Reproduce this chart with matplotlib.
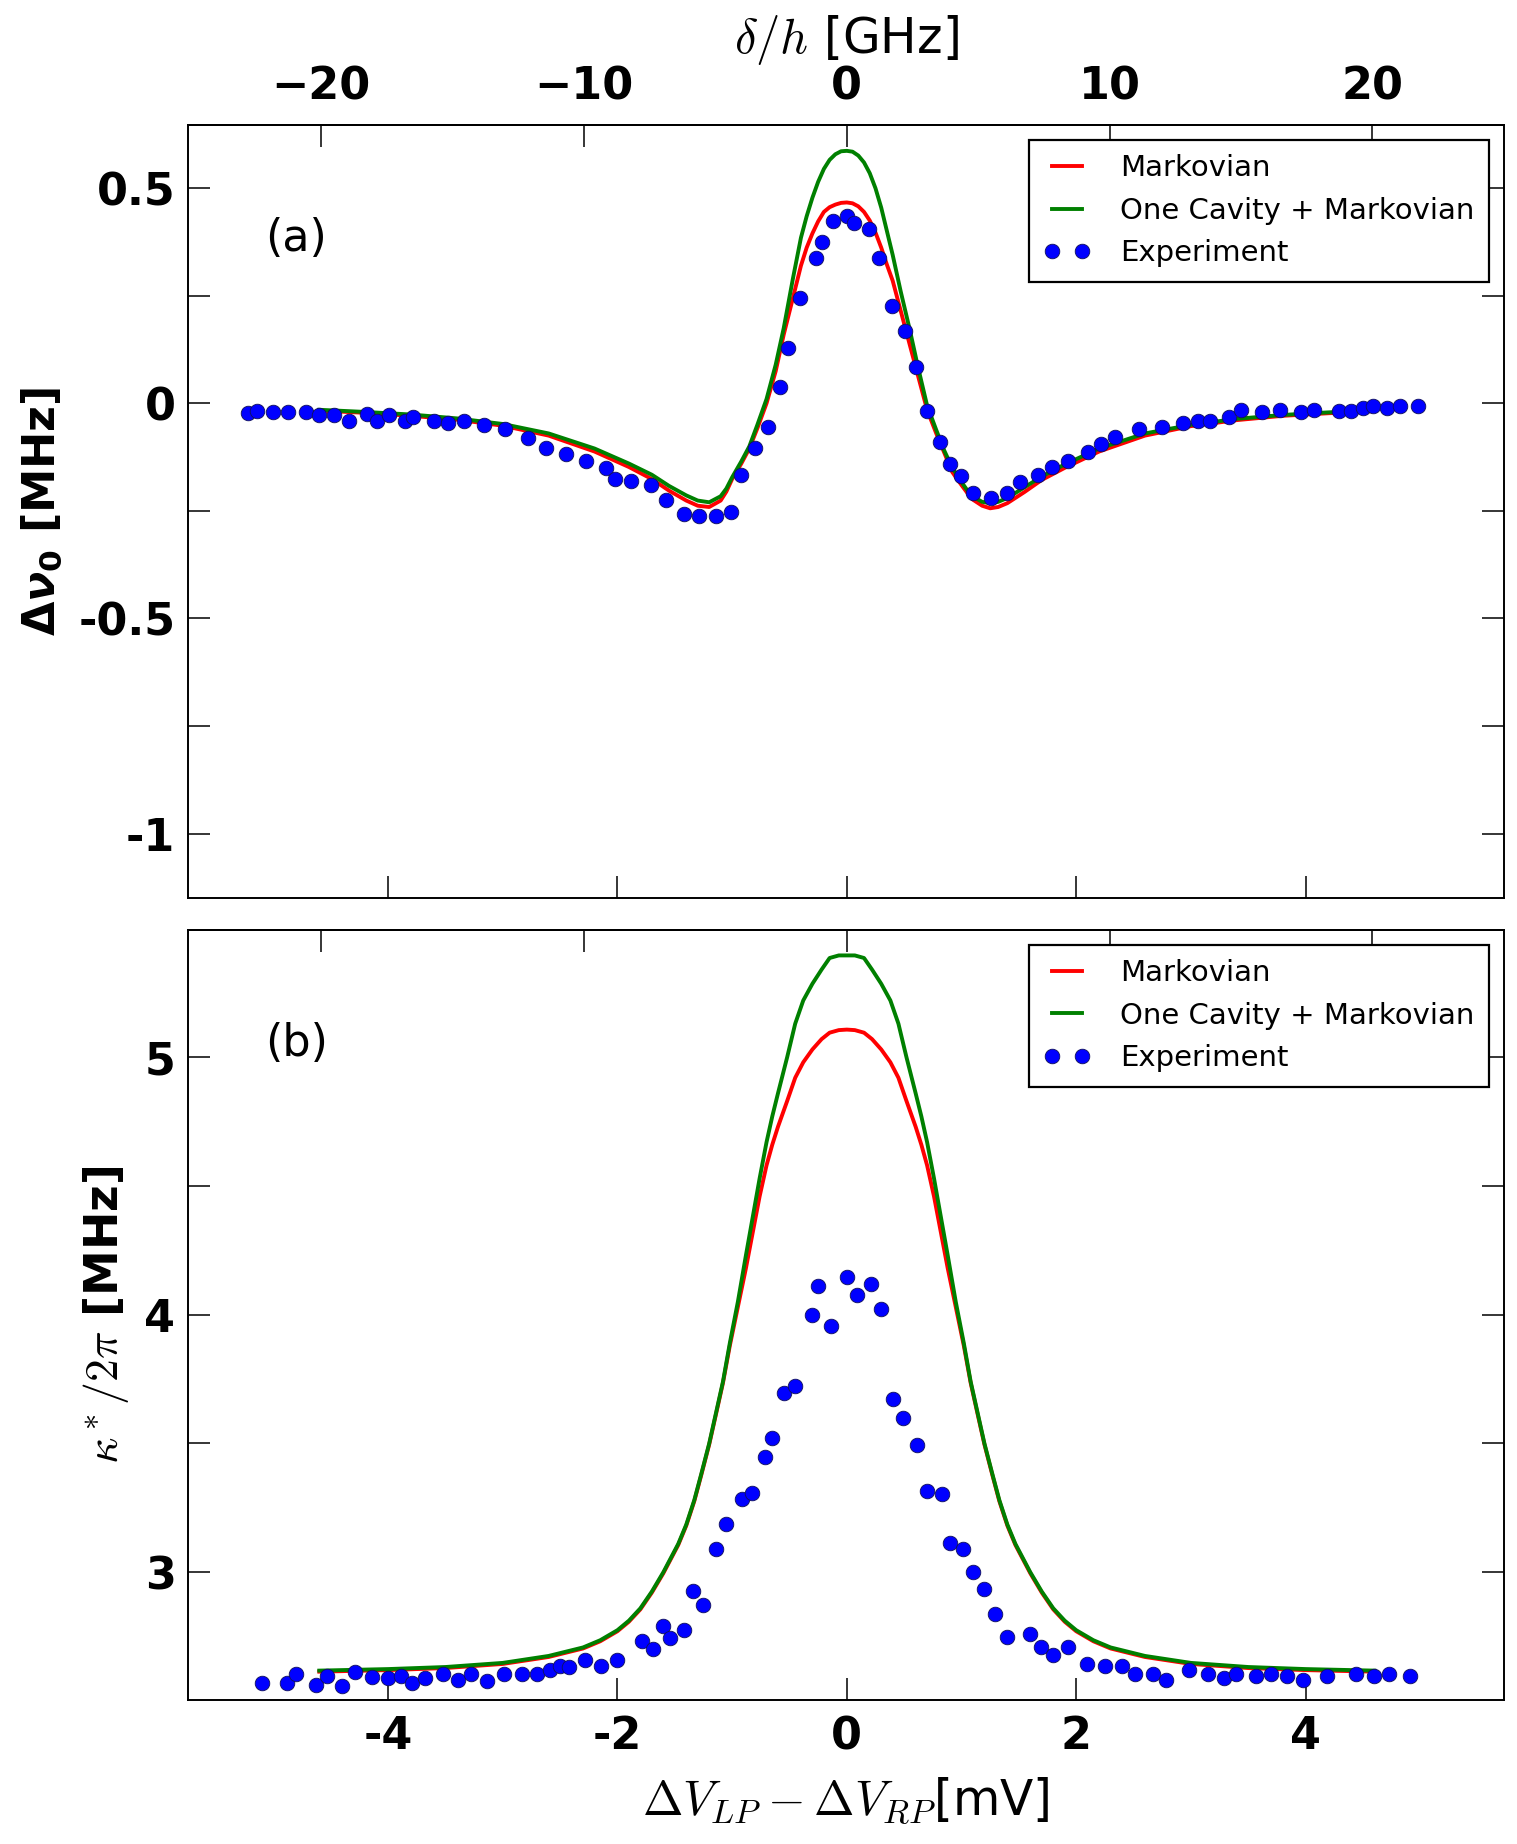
import numpy as np
import matplotlib
matplotlib.use('Agg')
import matplotlib.pyplot as plt
from matplotlib.ticker import FixedLocator, FixedFormatter, MultipleLocator

plt.rcParams['font.family'] = 'DejaVu Sans'
plt.rcParams['font.weight'] = 'bold'

# ---------------- panel (a): frequency shift ----------------
xa_curve = [-4.6, -4.2, -3.8, -3.4, -3.0, -2.6, -2.2, -1.9, -1.7, -1.55,
            -1.4, -1.3, -1.2, -1.1, -1.05, -1.0, -0.92, -0.85, -0.78, -0.7,
            -0.62, -0.55, -0.47, -0.4, -0.35, -0.3, -0.25, -0.2, -0.15, -0.1,
            -0.05, 0.0,
            0.05, 0.1, 0.15, 0.2, 0.25, 0.3, 0.35, 0.4, 0.47, 0.55,
            0.62, 0.7, 0.78, 0.85, 0.92, 1.0, 1.05, 1.1, 1.18, 1.25,
            1.32, 1.4, 1.55, 1.7, 1.9, 2.2, 2.6, 3.0, 3.4, 3.8,
            4.2, 4.6]
a_markov = [-0.017, -0.022, -0.029, -0.038, -0.052, -0.075, -0.112, -0.148, -0.176, -0.203,
            -0.226, -0.238, -0.241, -0.226, -0.205, -0.176, -0.140, -0.105, -0.058, 0.000,
            0.075, 0.160, 0.245, 0.320, 0.362, 0.395, 0.423, 0.445, 0.456, 0.462,
            0.466, 0.467,
            0.465, 0.458, 0.445, 0.425, 0.397, 0.362, 0.322, 0.285, 0.215, 0.135,
            0.065, -0.015, -0.070, -0.115, -0.160, -0.190, -0.208, -0.224, -0.238, -0.244,
            -0.241, -0.232, -0.206, -0.178, -0.150, -0.112, -0.075, -0.053, -0.039, -0.029,
            -0.023, -0.018]
a_cavity = [-0.015, -0.020, -0.026, -0.035, -0.048, -0.070, -0.105, -0.140, -0.166, -0.192,
            -0.214, -0.226, -0.230, -0.216, -0.198, -0.172, -0.135, -0.100, -0.050, 0.010,
            0.090, 0.175, 0.290, 0.385, 0.435, 0.478, 0.515, 0.545, 0.566, 0.579,
            0.586, 0.587,
            0.585, 0.576, 0.560, 0.535, 0.500, 0.455, 0.400, 0.345, 0.260, 0.170,
            0.085, -0.005, -0.062, -0.110, -0.150, -0.183, -0.202, -0.217, -0.229, -0.232,
            -0.229, -0.220, -0.195, -0.170, -0.142, -0.105, -0.070, -0.050, -0.036, -0.027,
            -0.021, -0.016]
xa_exp = [-5.22, -5.14, -5.00, -4.87, -4.72, -4.60, -4.47, -4.34, -4.18, -4.10, -3.99, -3.85, -3.78,
          -3.60, -3.48, -3.34, -3.16, -2.98, -2.78, -2.62, -2.45, -2.27, -2.10, -2.02, -1.88, -1.71,
          -1.58, -1.42, -1.29, -1.14, -1.01, -0.92, -0.80, -0.69, -0.58, -0.51, -0.41, -0.27, -0.22,
          -0.12, 0.00, 0.06, 0.19, 0.28, 0.39, 0.51, 0.60, 0.70, 0.81, 0.90, 1.00, 1.10, 1.26, 1.40,
          1.51, 1.67, 1.79, 1.93, 2.10, 2.22, 2.34, 2.55, 2.75, 2.93, 3.06, 3.17, 3.33, 3.44, 3.62,
          3.78, 3.96, 4.07, 4.29, 4.40, 4.50, 4.59, 4.71, 4.82, 4.98]
a_exp = [-0.022, -0.017, -0.021, -0.021, -0.021, -0.026, -0.026, -0.041, -0.025, -0.041, -0.026,
         -0.041, -0.031, -0.041, -0.046, -0.041, -0.051, -0.060, -0.080, -0.104, -0.118, -0.133,
         -0.151, -0.176, -0.181, -0.190, -0.224, -0.258, -0.262, -0.262, -0.253, -0.166, -0.104,
         -0.054, 0.037, 0.128, 0.246, 0.337, 0.376, 0.425, 0.435, 0.420, 0.405, 0.338, 0.226,
         0.168, 0.085, -0.018, -0.089, -0.142, -0.170, -0.209, -0.220, -0.209, -0.184, -0.166,
         -0.149, -0.133, -0.114, -0.094, -0.079, -0.059, -0.056, -0.045, -0.040, -0.041, -0.031,
         -0.015, -0.021, -0.015, -0.021, -0.015, -0.017, -0.017, -0.011, -0.006, -0.011, -0.006,
         -0.006]

# ---------------- panel (b): linewidth ----------------
xb_curve = [-4.6, -4.0, -3.5, -3.0, -2.6, -2.3, -2.15, -2.0, -1.9, -1.8,
            -1.7, -1.6, -1.47, -1.4, -1.33, -1.27, -1.2, -1.14, -1.08, -1.02,
            -0.95, -0.88, -0.82, -0.76, -0.7, -0.65, -0.6, -0.52, -0.45, -0.38,
            -0.3, -0.22, -0.15, -0.07, 0.0,
            0.07, 0.15, 0.22, 0.3, 0.38, 0.45, 0.52, 0.6, 0.65, 0.7,
            0.76, 0.82, 0.88, 0.95, 1.02, 1.08, 1.14, 1.2, 1.27, 1.33,
            1.4, 1.47, 1.6, 1.7, 1.8, 1.9, 2.0, 2.15, 2.3, 2.6,
            3.0, 3.5, 4.0, 4.6]
b_cavity = [2.618, 2.624, 2.632, 2.648, 2.675, 2.708, 2.736, 2.775, 2.812, 2.860,
            2.925, 3.000, 3.110, 3.185, 3.280, 3.380, 3.500, 3.620, 3.740, 3.890,
            4.050, 4.230, 4.380, 4.530, 4.670, 4.770, 4.860, 5.000, 5.130, 5.220,
            5.285, 5.340, 5.385, 5.395, 5.395,
            5.395, 5.385, 5.340, 5.285, 5.220, 5.130, 5.000, 4.860, 4.770, 4.670,
            4.530, 4.380, 4.230, 4.050, 3.890, 3.740, 3.620, 3.500, 3.380, 3.280,
            3.185, 3.110, 3.000, 2.925, 2.860, 2.812, 2.775, 2.736, 2.708, 2.675,
            2.648, 2.632, 2.624, 2.618]
b_markov = [2.614, 2.620, 2.628, 2.644, 2.671, 2.704, 2.732, 2.771, 2.808, 2.856,
            2.921, 2.996, 3.106, 3.181, 3.276, 3.376, 3.496, 3.615, 3.735, 3.880,
            4.030, 4.180, 4.320, 4.460, 4.580, 4.660, 4.730, 4.830, 4.920, 4.980,
            5.030, 5.070, 5.095, 5.105, 5.107,
            5.105, 5.095, 5.070, 5.030, 4.980, 4.920, 4.830, 4.730, 4.660, 4.580,
            4.460, 4.320, 4.180, 4.030, 3.880, 3.735, 3.615, 3.496, 3.376, 3.276,
            3.181, 3.106, 2.996, 2.921, 2.856, 2.808, 2.771, 2.732, 2.704, 2.671,
            2.644, 2.628, 2.620, 2.614]
xb_exp = [-5.10, -4.88, -4.80, -4.63, -4.53, -4.40, -4.29, -4.14, -4.00, -3.89, -3.79, -3.68, -3.52,
          -3.39, -3.28, -3.14, -2.99, -2.83, -2.70, -2.59, -2.50, -2.42, -2.28, -2.14, -2.00, -1.79,
          -1.69, -1.60, -1.54, -1.42, -1.34, -1.25, -1.14, -1.05, -0.91, -0.83, -0.71, -0.65, -0.55,
          -0.45, -0.30, -0.25, -0.14, 0.00, 0.09, 0.21, 0.30, 0.40, 0.49, 0.61, 0.70, 0.83, 0.90,
          1.01, 1.10, 1.20, 1.29, 1.40, 1.60, 1.69, 1.80, 1.93, 2.09, 2.25, 2.40, 2.51, 2.67, 2.78,
          2.98, 3.15, 3.29, 3.39, 3.57, 3.70, 3.84, 3.98, 4.19, 4.44, 4.60, 4.73, 4.91]
b_exp = [2.571, 2.571, 2.606, 2.564, 2.599, 2.557, 2.612, 2.595, 2.588, 2.599, 2.571, 2.588, 2.605,
         2.582, 2.605, 2.579, 2.605, 2.605, 2.605, 2.622, 2.635, 2.631, 2.661, 2.635, 2.661, 2.733,
         2.703, 2.791, 2.743, 2.776, 2.928, 2.871, 3.091, 3.189, 3.285, 3.309, 3.447, 3.520, 3.697,
         3.723, 4.000, 4.111, 3.957, 4.145, 4.077, 4.118, 4.021, 3.674, 3.599, 3.496, 3.317, 3.302,
         3.113, 3.091, 3.002, 2.936, 2.838, 2.750, 2.760, 2.711, 2.677, 2.711, 2.643, 2.636, 2.635,
         2.605, 2.605, 2.582, 2.622, 2.605, 2.588, 2.605, 2.598, 2.605, 2.598, 2.582, 2.598, 2.605,
         2.598, 2.605, 2.598]

# tick labels
mv_ticks = [-4, -2, 0, 2, 4]
mv_labels = ['-4', '-2', '0', '2', '4']
ghz_ticks = [-20, -10, 0, 10, 20]
ghz_labels = ['\u221220', '\u221210', '0', '10', '20']
a_yticks = [0.5, 0, -0.5, -1]
a_ylabels = ['0.5', '0', '-0.5', '-1']
b_yticks = [3, 4, 5]
b_ylabels = ['3', '4', '5']

k = 4.365  # GHz per mV
xlim = (-5.745, 5.73)

fig = plt.figure(figsize=(15.17, 18.44), dpi=100)
axa = fig.add_axes([0.1239, 0.5130, 0.8675, 0.4192])
axb = fig.add_axes([0.1239, 0.0781, 0.8675, 0.4176])

mk = dict(marker='o', ls='none', color='#0000ff', ms=10.5, mec='#10105a', mew=0.6)

for ax, xc, ym, yc, xe, ye in [(axa, xa_curve, a_markov, a_cavity, xa_exp, a_exp),
                               (axb, xb_curve, b_markov, b_cavity, xb_exp, b_exp)]:
    ax.plot(xc, ym, color='#ff0000', lw=2.8, label='Markovian')
    ax.plot(xc, yc, color='#008000', lw=2.8, label='One Cavity + Markovian')
    ax.plot(xe, ye, label='Experiment', **mk)
    ax.set_xlim(*xlim)
    ax.xaxis.set_major_locator(FixedLocator(mv_ticks))
    ax.tick_params(which='both', direction='in', length=15.5, width=1.1,
                   right=True, top=False, labelsize=32)
    ax.tick_params(axis='x', pad=11)
    ax.tick_params(axis='y', pad=9)
    for s in ax.spines.values():
        s.set_linewidth(1.4)
    leg = ax.legend(loc='upper right', numpoints=2, fancybox=False, framealpha=1,
                    edgecolor='black', prop={'size': 21, 'weight': 'normal'},
                    borderaxespad=0.5, handlelength=1.65, handletextpad=1.0,
                    labelspacing=0.5, borderpad=0.5)
    leg.get_frame().set_linewidth(1.6)
    sec = ax.secondary_xaxis('top', functions=(lambda x: x * k, lambda g: g / k))
    sec.xaxis.set_major_locator(FixedLocator(ghz_ticks))
    sec.tick_params(direction='in', length=15.5, width=1.1, labelsize=32, pad=12)
    sec.spines['top'].set_linewidth(1.4)
    if ax is axa:
        sec.xaxis.set_major_formatter(FixedFormatter(ghz_labels))
        sec.set_xlabel(r'$\delta/h$ [GHz]', fontsize=35, fontweight='normal',
                       math_fontfamily='cm', labelpad=9)
    else:
        sec.set_xticklabels([])

axa.set_xticklabels([])
axa.set_ylim(-1.15, 0.647)
axa.yaxis.set_major_locator(FixedLocator(a_yticks))
axa.yaxis.set_major_formatter(FixedFormatter(a_ylabels))
axa.yaxis.set_minor_locator(MultipleLocator(0.25))
axa.set_ylabel(r'$\Delta\nu_0$ [MHz]', fontsize=32, fontweight='bold', labelpad=10)
axa.text(0.059, 0.853, '(a)', transform=axa.transAxes, fontsize=32,
         fontweight='normal', va='center', ha='left')

axb.xaxis.set_major_formatter(FixedFormatter(mv_labels))
axb.set_ylim(2.504, 5.494)
axb.yaxis.set_major_locator(FixedLocator(b_yticks))
axb.yaxis.set_major_formatter(FixedFormatter(b_ylabels))
axb.yaxis.set_minor_locator(MultipleLocator(0.5))
axb.set_ylabel(r'$\kappa^*/2\pi$ [MHz]', fontsize=33, fontweight='bold', labelpad=10,
               math_fontfamily='cm')
axb.set_xlabel(r'$\Delta V_{LP}-\Delta V_{RP}$[mV]', fontsize=35, fontweight='normal',
               math_fontfamily='cm', labelpad=12)
axb.text(0.059, 0.853, '(b)', transform=axb.transAxes, fontsize=32,
         fontweight='normal', va='center', ha='left')

fig.savefig('out.png', dpi=100)
